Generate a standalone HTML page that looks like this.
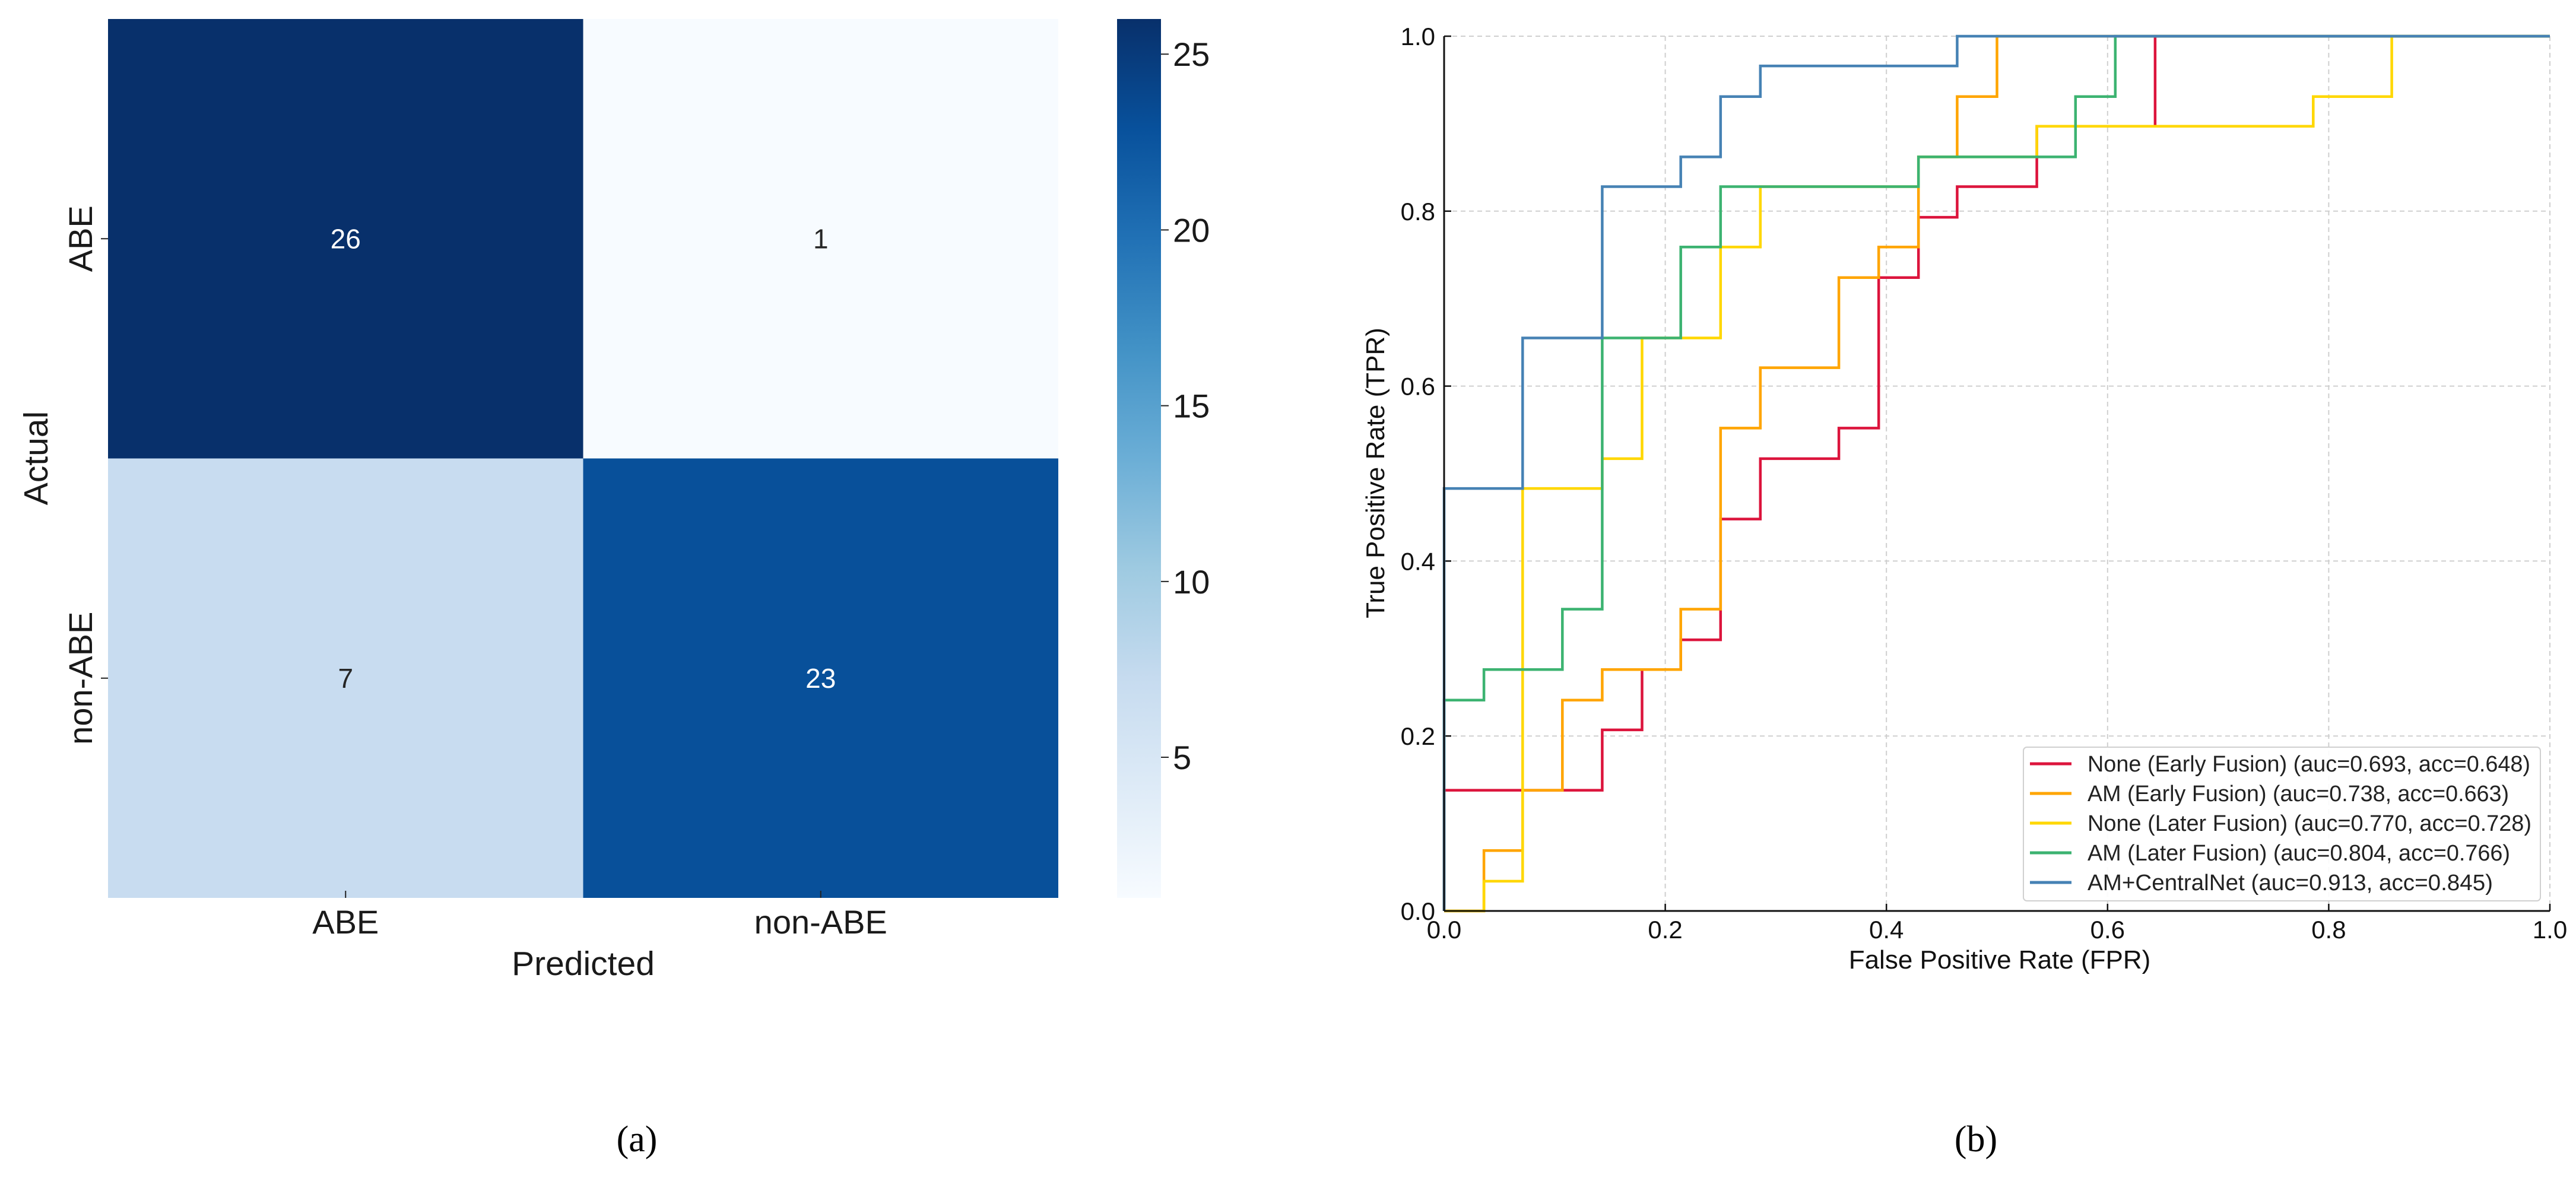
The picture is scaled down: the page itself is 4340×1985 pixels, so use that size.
<!DOCTYPE html>
<html><head><meta charset="utf-8">
<style>
html,body{margin:0;padding:0;background:#fff;}
svg{display:block;font-family:"Liberation Sans","DejaVu Sans",sans-serif;}
</style></head>
<body>
<svg id="fig" width="4340" height="1985" viewBox="0 0 4340 1985" xmlns="http://www.w3.org/2000/svg">
<defs>
<linearGradient id="blues" x1="0" y1="1" x2="0" y2="0">
<stop offset="0" stop-color="#f7fbff"/><stop offset="0.125" stop-color="#deebf7"/>
<stop offset="0.25" stop-color="#c6dbef"/><stop offset="0.375" stop-color="#9ecae1"/>
<stop offset="0.5" stop-color="#6baed6"/><stop offset="0.625" stop-color="#4292c6"/>
<stop offset="0.75" stop-color="#2171b5"/><stop offset="0.875" stop-color="#08519c"/>
<stop offset="1" stop-color="#08306b"/></linearGradient>
</defs>
<g id="heat"></g>
<g id="roc"></g>
<text x="1073" y="1940" font-family="Liberation Serif,serif" font-size="62" text-anchor="middle">(a)</text>
<text x="3329" y="1940" font-family="Liberation Serif,serif" font-size="62" text-anchor="middle">(b)</text>
</svg>
<script>
const NS="http://www.w3.org/2000/svg";
// ---- confusion matrix data ----
const cmLabels=["ABE","non-ABE"];
const cmValues=[[26,1],[7,23]];
const cbTicks=[5,10,15,20,25];
// ---- ROC data ----
const rocNames=["None (Early Fusion) (auc=0.693, acc=0.648)","AM (Early Fusion) (auc=0.738, acc=0.663)","None (Later Fusion) (auc=0.770, acc=0.728)","AM (Later Fusion) (auc=0.804, acc=0.766)","AM+CentralNet (auc=0.913, acc=0.845)"];
const rocColors=["#dc143c","#ffa500","#ffd700","#3cb371","#4682b4"];
const fprRed=[0,0,0.143,0.143,0.179,0.179,0.214,0.214,0.25,0.25,0.286,0.286,0.357,0.357,0.393,0.393,0.429,0.429,0.464,0.464,0.536,0.536,0.643,0.643,1];
const tprRed=[0,0.138,0.138,0.207,0.207,0.276,0.276,0.31,0.31,0.448,0.448,0.517,0.517,0.552,0.552,0.724,0.724,0.793,0.793,0.828,0.828,0.897,0.897,1,1];
const fprOrange=[0,0.036,0.036,0.071,0.071,0.107,0.107,0.143,0.143,0.214,0.214,0.25,0.25,0.286,0.286,0.357,0.357,0.393,0.393,0.429,0.429,0.464,0.464,0.5,0.5,1];
const tprOrange=[0,0,0.069,0.069,0.138,0.138,0.241,0.241,0.276,0.276,0.345,0.345,0.552,0.552,0.621,0.621,0.724,0.724,0.759,0.759,0.862,0.862,0.931,0.931,1,1];
const fprYellow=[0,0.036,0.036,0.071,0.071,0.143,0.143,0.179,0.179,0.25,0.25,0.286,0.286,0.429,0.429,0.536,0.536,0.786,0.786,0.857,0.857,1];
const tprYellow=[0,0,0.034,0.034,0.483,0.483,0.517,0.517,0.655,0.655,0.759,0.759,0.828,0.828,0.862,0.862,0.897,0.897,0.931,0.931,1,1];
const fprGreen=[0,0,0.036,0.036,0.107,0.107,0.143,0.143,0.214,0.214,0.25,0.25,0.429,0.429,0.571,0.571,0.607,0.607,1];
const tprGreen=[0,0.241,0.241,0.276,0.276,0.345,0.345,0.655,0.655,0.759,0.759,0.828,0.828,0.862,0.862,0.931,0.931,1,1];
const fprBlue=[0,0,0.071,0.071,0.143,0.143,0.214,0.214,0.25,0.25,0.286,0.286,0.464,0.464,1];
const tprBlue=[0,0.483,0.483,0.655,0.655,0.828,0.828,0.862,0.862,0.931,0.931,0.966,0.966,1,1];
const rocTicks=[0,0.2,0.4,0.6,0.8,1.0];

function mk(parent,tag,attrs,text){const e=document.createElementNS(NS,tag);for(const k in attrs)e.setAttribute(k,attrs[k]);if(text!==undefined)e.textContent=text;parent.appendChild(e);return e;}

// ---- heatmap ----
(function(){
const g=document.getElementById('heat');
const L=182,R=1783,T=32,B=1513,vmin=1,vmax=26;
const stops=[[0,[247,251,255]],[0.125,[222,235,247]],[0.25,[198,219,239]],[0.375,[158,202,225]],[0.5,[107,174,214]],[0.625,[66,146,198]],[0.75,[33,113,181]],[0.875,[8,81,156]],[1,[8,48,107]]];
function col(v){let t=(v-vmin)/(vmax-vmin);t=Math.max(0,Math.min(1,t));for(let i=1;i<stops.length;i++){if(t<=stops[i][0]){const a=stops[i-1],b=stops[i];const f=(t-a[0])/(b[0]-a[0]);const c=a[1].map((x,j)=>Math.round(x+(b[1][j]-x)*f));return `rgb(${c})`;}}return 'rgb(8,48,107)';}
const n=cmLabels.length,cw=(R-L)/n,ch=(B-T)/n;
for(let r=0;r<n;r++)for(let c=0;c<n;c++){
 const v=cmValues[r][c];
 const rect=mk(g,'rect',{x:L+c*cw,y:T+r*ch,width:cw,height:ch,fill:col(v)});
 
 
 const t=mk(g,'text',{x:L+(c+0.5)*cw,y:T+(r+0.5)*ch+16,'font-size':46,'text-anchor':'middle',fill:(v-vmin)/(vmax-vmin)>0.5?'#fff':'#262626'},String(v));
 
 
}
for(let i=0;i<n;i++){
 const x=L+(i+0.5)*cw;
 mk(g,'line',{x1:x,y1:B-12,x2:x,y2:B,stroke:'#222','stroke-width':2});
 const t=mk(g,'text',{x:x,y:1573,'font-size':56,'text-anchor':'middle',fill:'#1a1a1a'},cmLabels[i]);
 
 
 const y=T+(i+0.5)*ch;
 mk(g,'line',{x1:L-12,y1:y,x2:L,y2:y,stroke:'#222','stroke-width':2});
 const t2=mk(g,'text',{x:0,y:0,'font-size':56,'text-anchor':'middle',fill:'#1a1a1a',transform:`translate(155,${y}) rotate(-90)`},cmLabels[i]);
 
 
}
const xt=mk(g,'text',{x:(L+R)/2,y:1643,'font-size':57,'text-anchor':'middle',fill:'#1a1a1a'},'Predicted');


const yt=mk(g,'text',{x:0,y:0,'font-size':57,'text-anchor':'middle',fill:'#1a1a1a',transform:`translate(80,772) rotate(-90)`},'Actual');


const cx=1882,cw2=74;
const cb=mk(g,'rect',{x:cx,y:T,width:cw2,height:B-T,fill:'url(#blues)'});


const cy=v=>B-(v-vmin)/(vmax-vmin)*(B-T);
cbTicks.forEach(v=>{
 mk(g,'line',{x1:cx+cw2,y1:cy(v),x2:cx+cw2+13,y2:cy(v),stroke:'#222','stroke-width':2});
 const t=mk(g,'text',{x:cx+cw2+20,y:cy(v)+20,'font-size':56,fill:'#1a1a1a'},String(v));
 
 
});
})();

// ---- ROC ----
(function(){
const g=document.getElementById('roc');
const L=2433,R=4296,T=61,B=1535;
const X=v=>L+v*(R-L),Y=v=>B-v*(B-T);
rocTicks.forEach(v=>{
 mk(g,'line',{x1:X(v),y1:T,x2:X(v),y2:B,stroke:'#cfcfcf','stroke-width':2,'stroke-dasharray':'8,6'});
 mk(g,'line',{x1:L,y1:Y(v),x2:R,y2:Y(v),stroke:'#cfcfcf','stroke-width':2,'stroke-dasharray':'8,6'});
 mk(g,'line',{x1:X(v),y1:B,x2:X(v),y2:B-12,stroke:'#111','stroke-width':2.5});
 mk(g,'line',{x1:L,y1:Y(v),x2:L+12,y2:Y(v),stroke:'#111','stroke-width':2.5});
 const tx=mk(g,'text',{x:X(v),y:1581,'font-size':42,'text-anchor':'middle',fill:'#111'},v.toFixed(1));
 
 
 const ty=mk(g,'text',{x:2418,y:Y(v)+15,'font-size':42,'text-anchor':'end',fill:'#111'},v.toFixed(1));
 
 
});
const series=[[fprRed,tprRed],[fprOrange,tprOrange],[fprYellow,tprYellow],[fprGreen,tprGreen],[fprBlue,tprBlue]];
series.forEach((s,i)=>{
 const pts=s[0].map((x,j)=>X(x).toFixed(1)+','+Y(s[1][j]).toFixed(1)).join(' ');
 const pl=mk(g,'polyline',{points:pts,fill:'none',stroke:rocColors[i],'stroke-width':4.5,'stroke-linejoin':'miter'});
 
 
});
mk(g,'line',{x1:L,y1:T,x2:L,y2:B,stroke:'#111','stroke-width':3});
mk(g,'line',{x1:L,y1:B,x2:R,y2:B,stroke:'#111','stroke-width':3});
const xt=mk(g,'text',{x:3369,y:1632,'font-size':44,'text-anchor':'middle',fill:'#111'},'False Positive Rate (FPR)');


const yt=mk(g,'text',{x:0,y:0,'font-size':44,'text-anchor':'middle',fill:'#111',transform:'translate(2332,797) rotate(-90)'},'True Positive Rate (TPR)');


const lg=mk(g,'g',{});


mk(lg,'rect',{x:3409,y:1259,width:871,height:259,rx:6,fill:'#fff','fill-opacity':0.9,stroke:'#d0d0d0','stroke-width':2});
const widths=[746,710,748,712,683];
rocNames.forEach((nm,i)=>{
 const y=1287+i*50;
 const ln=mk(lg,'line',{x1:3420,y1:y,x2:3490,y2:y,stroke:rocColors[i],'stroke-width':5});
 
 
 const t=mk(lg,'text',{x:3517,y:y+13,'font-size':38,fill:'#222',textLength:widths[i],lengthAdjust:'spacingAndGlyphs'},nm);
 
 
});
})();
</script>
</body></html>
